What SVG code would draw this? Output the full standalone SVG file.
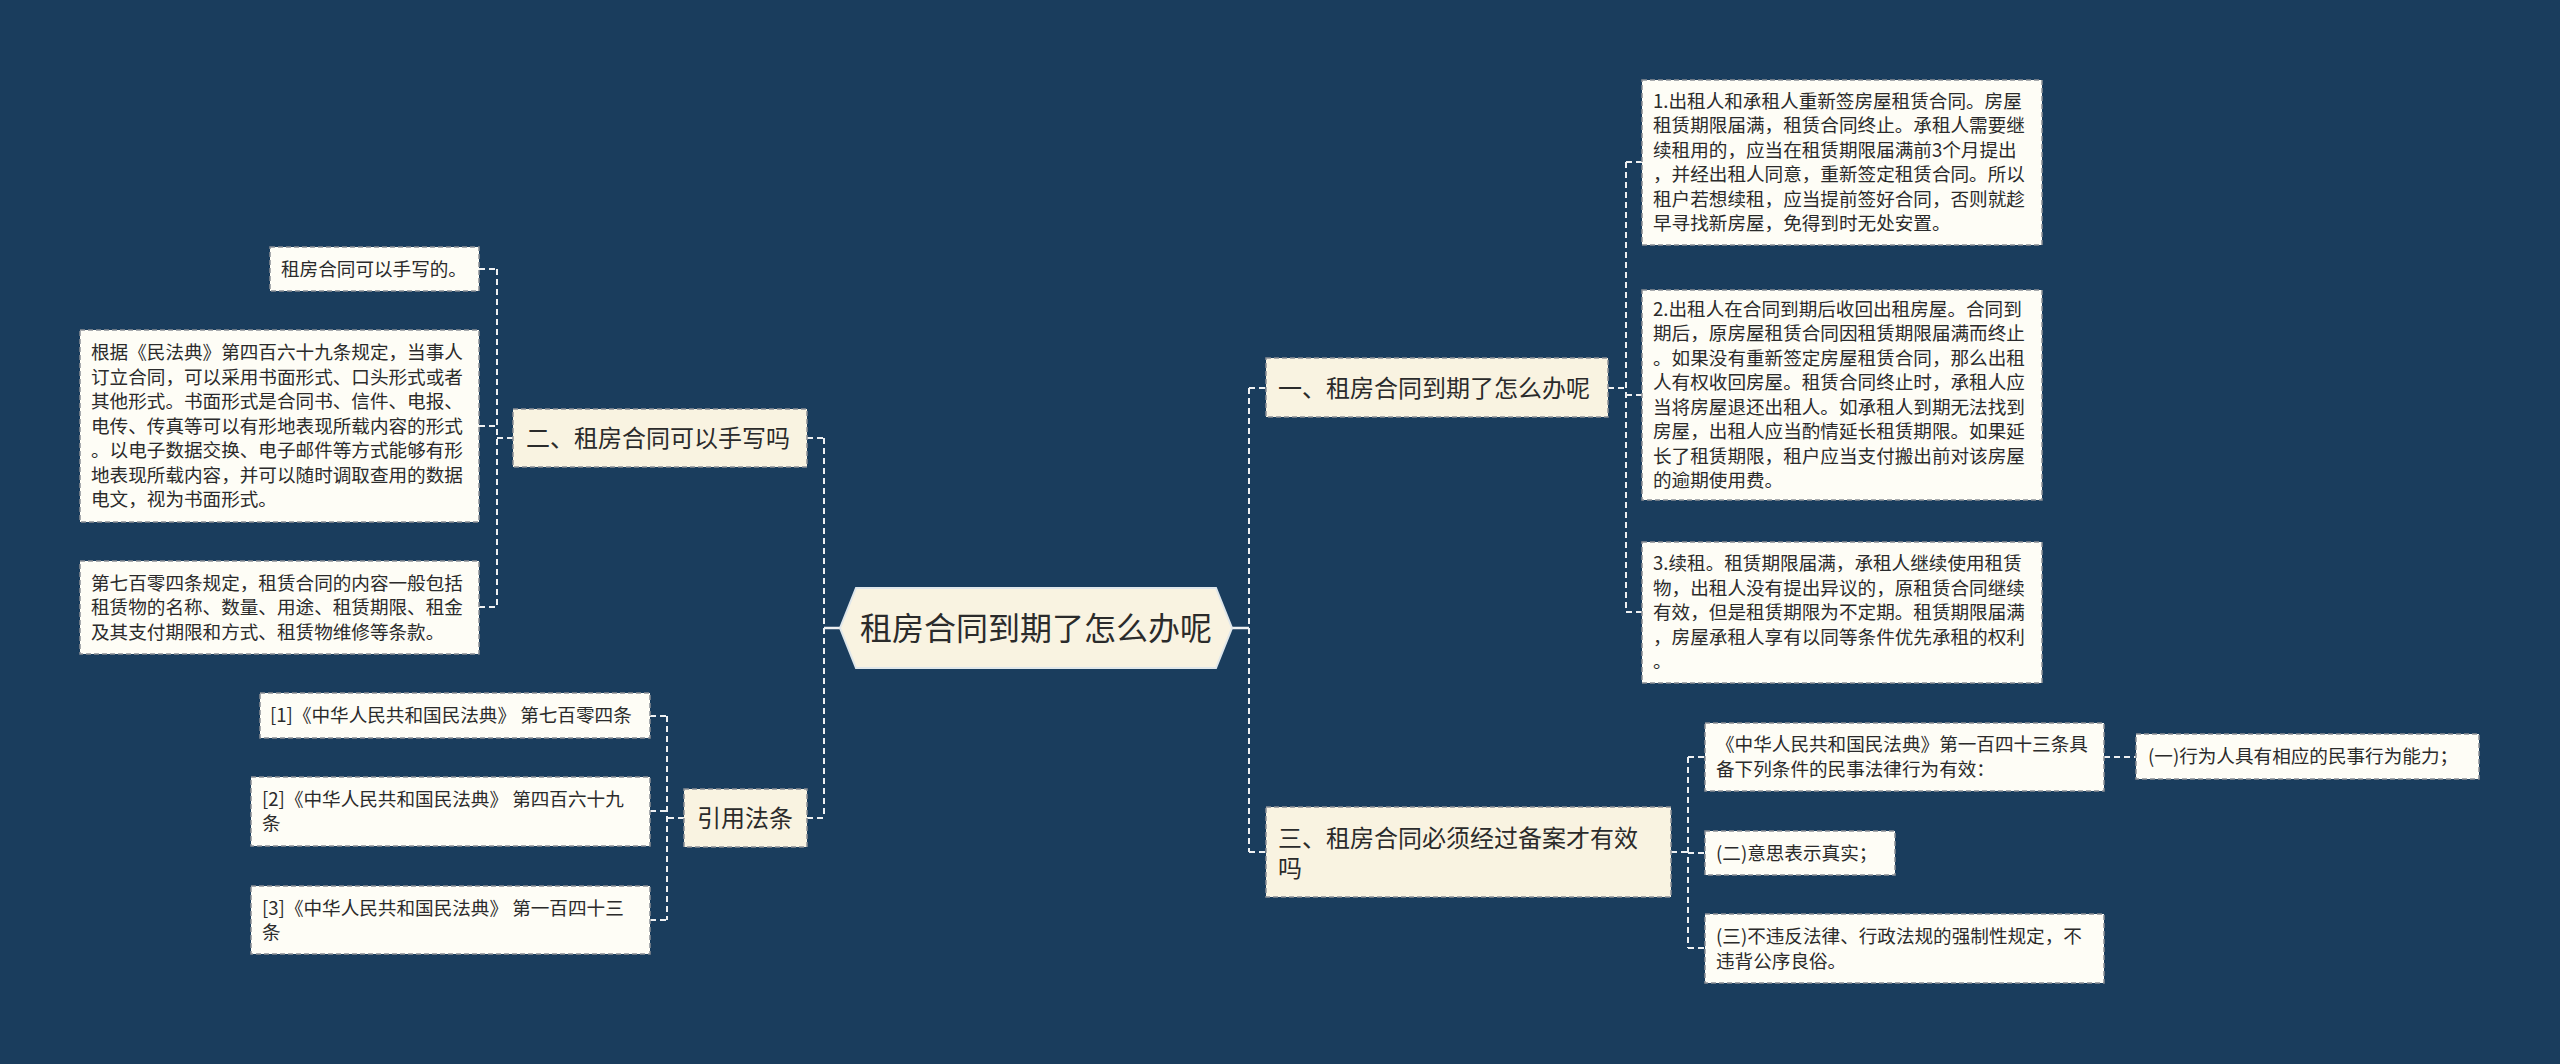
<svg xmlns="http://www.w3.org/2000/svg" width="2560" height="1064" viewBox="0 0 2560 1064">
<style>
.bg{fill:#1a3d5d}
.leaf{fill:#fefdf6;stroke:#8a8f95;stroke-width:1.5;stroke-dasharray:5 3}
.l1{fill:#f9f3e1;stroke:#8a8f95;stroke-width:1.5;stroke-dasharray:5 3}
.root{fill:#f9f3e1;stroke:#dfe6ea;stroke-width:2}
.t{font-family:"Noto Sans CJK SC","Noto Sans",sans-serif;fill:#2b2b2b}
.ts{font-size:18.6px}
.tm{font-size:24px}
.tl{font-size:32px}
.c{fill:none;stroke:#eef0f2;stroke-width:2;stroke-dasharray:6 4}
.cs{fill:none;stroke:#eef0f2;stroke-width:2.5}
</style>
<rect class="bg" x="0" y="0" width="2560" height="1064"/>

<g id="connectors">
  <path class="cs" d="M840 628 H824"/>
  <path class="c" d="M824 438 V818 M807 438 H824 M807 818 H824"/>
  <path class="c" d="M513 438 H497 M497 269 V607 M479 269 H497 M479 426 H497 M479 607 H497"/>
  <path class="c" d="M684 818 H667 M667 716 V920 M650 716 H667 M650 811 H667 M650 920 H667"/>
  <path class="cs" d="M1232 628 H1249"/>
  <path class="c" d="M1249 388 V852 M1249 388 H1266 M1249 852 H1266"/>
  <path class="c" d="M1608 388 H1626 M1626 162 V612 M1626 162 H1642 M1626 395 H1642 M1626 612 H1642"/>
  <path class="c" d="M1671 852 H1688 M1688 757 V948 M1688 757 H1705 M1688 853 H1705 M1688 948 H1705"/>
  <path class="c" d="M2104 757 H2136"/>
</g>

<g id="root">
  <polygon class="root" points="840,628 856,588 1216,588 1232,628 1216,668 856,668"/>
  <text class="t tl" x="1036" y="639.5" text-anchor="middle">租房合同到期了怎么办呢</text>
</g>

<g id="n1">
  <rect class="l1" x="1266" y="358" width="342" height="59"/>
  <text class="t tm" x="1278" y="396.5">一、租房合同到期了怎么办呢</text>
</g>
<g id="n1c1">
  <rect class="leaf" x="1642" y="80" width="400" height="165"/>
  <text class="t ts" x="1653">
    <tspan x="1653" y="107.8">1.出租人和承租人重新签房屋租赁合同。房屋</tspan>
    <tspan x="1653" y="132.3">租赁期限届满，租赁合同终止。承租人需要继</tspan>
    <tspan x="1653" y="156.8">续租用的，应当在租赁期限届满前3个月提出</tspan>
    <tspan x="1653" y="181.3">，并经出租人同意，重新签定租赁合同。所以</tspan>
    <tspan x="1653" y="205.8">租户若想续租，应当提前签好合同，否则就趁</tspan>
    <tspan x="1653" y="230.3">早寻找新房屋，免得到时无处安置。</tspan>
  </text>
</g>
<g id="n1c2">
  <rect class="leaf" x="1642" y="290" width="400" height="210"/>
  <text class="t ts">
    <tspan x="1653" y="315.8">2.出租人在合同到期后收回出租房屋。合同到</tspan>
    <tspan x="1653" y="340.3">期后，原房屋租赁合同因租赁期限届满而终止</tspan>
    <tspan x="1653" y="364.8">。如果没有重新签定房屋租赁合同，那么出租</tspan>
    <tspan x="1653" y="389.3">人有权收回房屋。租赁合同终止时，承租人应</tspan>
    <tspan x="1653" y="413.8">当将房屋退还出租人。如承租人到期无法找到</tspan>
    <tspan x="1653" y="438.3">房屋，出租人应当酌情延长租赁期限。如果延</tspan>
    <tspan x="1653" y="462.8">长了租赁期限，租户应当支付搬出前对该房屋</tspan>
    <tspan x="1653" y="487.3">的逾期使用费。</tspan>
  </text>
</g>
<g id="n1c3">
  <rect class="leaf" x="1642" y="542" width="400" height="141"/>
  <text class="t ts">
    <tspan x="1653" y="570">3.续租。租赁期限届满，承租人继续使用租赁</tspan>
    <tspan x="1653" y="594.5">物，出租人没有提出异议的，原租赁合同继续</tspan>
    <tspan x="1653" y="619">有效，但是租赁期限为不定期。租赁期限届满</tspan>
    <tspan x="1653" y="643.5">，房屋承租人享有以同等条件优先承租的权利</tspan>
    <tspan x="1653" y="668">。</tspan>
  </text>
</g>

<g id="n3">
  <rect class="l1" x="1266" y="807" width="405" height="90"/>
  <text class="t tm">
    <tspan x="1278" y="846.5">三、租房合同必须经过备案才有效</tspan>
    <tspan x="1278" y="876.5">吗</tspan>
  </text>
</g>
<g id="n3c1">
  <rect class="leaf" x="1705" y="723" width="399" height="68"/>
  <text class="t ts">
    <tspan x="1716" y="751.3">《中华人民共和国民法典》第一百四十三条具</tspan>
    <tspan x="1716" y="775.8">备下列条件的民事法律行为有效：</tspan>
  </text>
</g>
<g id="n3c1a">
  <rect class="leaf" x="2136" y="734" width="343" height="45"/>
  <text class="t ts" x="2148" y="763">(一)行为人具有相应的民事行为能力；</text>
</g>
<g id="n3c2">
  <rect class="leaf" x="1705" y="831" width="190" height="44"/>
  <text class="t ts" x="1716" y="859.5">(二)意思表示真实；</text>
</g>
<g id="n3c3">
  <rect class="leaf" x="1705" y="914" width="399" height="69"/>
  <text class="t ts">
    <tspan x="1716" y="943.3">(三)不违反法律、行政法规的强制性规定，不</tspan>
    <tspan x="1716" y="967.8">违背公序良俗。</tspan>
  </text>
</g>

<g id="n2">
  <rect class="l1" x="513" y="409" width="294" height="58"/>
  <text class="t tm" x="526" y="446.6">二、租房合同可以手写吗</text>
</g>
<g id="n2c1">
  <rect class="leaf" x="270" y="247" width="209" height="44"/>
  <text class="t ts" x="281" y="275.5">租房合同可以手写的。</text>
</g>
<g id="n2c2">
  <rect class="leaf" x="80" y="330" width="399" height="192"/>
  <text class="t ts">
    <tspan x="91" y="359">根据《民法典》第四百六十九条规定，当事人</tspan>
    <tspan x="91" y="383.5">订立合同，可以采用书面形式、口头形式或者</tspan>
    <tspan x="91" y="408">其他形式。书面形式是合同书、信件、电报、</tspan>
    <tspan x="91" y="432.5">电传、传真等可以有形地表现所载内容的形式</tspan>
    <tspan x="91" y="457">。以电子数据交换、电子邮件等方式能够有形</tspan>
    <tspan x="91" y="481.5">地表现所载内容，并可以随时调取查用的数据</tspan>
    <tspan x="91" y="506">电文，视为书面形式。</tspan>
  </text>
</g>
<g id="n2c3">
  <rect class="leaf" x="80" y="561" width="399" height="93"/>
  <text class="t ts">
    <tspan x="91" y="589.5">第七百零四条规定，租赁合同的内容一般包括</tspan>
    <tspan x="91" y="614">租赁物的名称、数量、用途、租赁期限、租金</tspan>
    <tspan x="91" y="638.5">及其支付期限和方式、租赁物维修等条款。</tspan>
  </text>
</g>

<g id="n4">
  <rect class="l1" x="684" y="789" width="123" height="58"/>
  <text class="t tm" x="697" y="826.6">引用法条</text>
</g>
<g id="n4c1">
  <rect class="leaf" x="260" y="693" width="390" height="45"/>
  <text class="t ts" x="270" y="722">[1]《中华人民共和国民法典》 第七百零四条</text>
</g>
<g id="n4c2">
  <rect class="leaf" x="251" y="777" width="399" height="69"/>
  <text class="t ts">
    <tspan x="262" y="805.5">[2]《中华人民共和国民法典》 第四百六十九</tspan>
    <tspan x="262" y="830">条</tspan>
  </text>
</g>
<g id="n4c3">
  <rect class="leaf" x="251" y="886" width="399" height="68"/>
  <text class="t ts">
    <tspan x="262" y="914.5">[3]《中华人民共和国民法典》 第一百四十三</tspan>
    <tspan x="262" y="939">条</tspan>
  </text>
</g>
</svg>
